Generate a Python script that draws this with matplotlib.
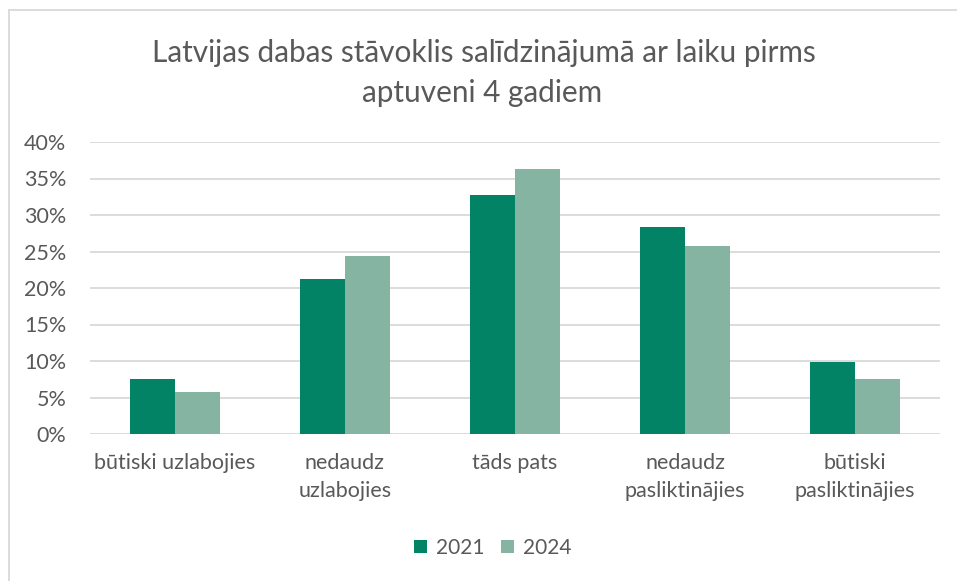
import numpy as np
import matplotlib
matplotlib.use("Agg")
import matplotlib.pyplot as plt
from matplotlib.ticker import PercentFormatter
from matplotlib.lines import Line2D

# Dati
categories = ["būtiski uzlabojies", "nedaudz\nuzlabojies", "tāds pats",
              "nedaudz\npasliktinājies", "būtiski\npasliktinājies"]
years = ["2021", "2024"]
values_2021 = [0.076, 0.213, 0.328, 0.283, 0.098]
values_2024 = [0.058, 0.244, 0.363, 0.257, 0.075]
yticks = [0, 0.05, 0.10, 0.15, 0.20, 0.25, 0.30, 0.35, 0.40]

col_2021 = "#038366"
col_2024 = "#86B4A3"
text_col = "#595959"
grid_col = "#D9D9D9"

plt.rcParams["font.family"] = ["Lato", "DejaVu Sans"]

fig = plt.figure(figsize=(9.57, 5.81), dpi=100)
ax = fig.add_axes([90 / 957, 1 - 434 / 581, 850 / 957, 292 / 581])

x = np.arange(len(categories))
w = 0.262
ax.bar(x - w / 2, values_2021, w, color=col_2021, label=years[0], zorder=3)
ax.bar(x + w / 2, values_2024, w, color=col_2024, label=years[1], zorder=3)

ax.set_xlim(-0.5, len(categories) - 0.5)
ax.set_ylim(0, 0.4)
ax.set_yticks(yticks)
ax.yaxis.set_major_formatter(PercentFormatter(1.0, decimals=0))
ax.set_xticks(x)
ax.set_xticklabels(categories, linespacing=1.45)
ax.tick_params(axis="both", length=0, labelsize=15.5, colors=text_col)
ax.tick_params(axis="x", pad=14)
ax.tick_params(axis="y", pad=17)
ax.grid(axis="y", color=grid_col, linewidth=1.3, zorder=0)
for s in ax.spines.values():
    s.set_visible(False)

fig.text(484 / 957, 1 - 53 / 581, "Latvijas dabas stāvoklis salīdzinājumā ar laiku pirms",
         ha="center", va="center", fontsize=21.4, color=text_col)
fig.text(482 / 957, 1 - 93 / 581, "aptuveni 4 gadiem",
         ha="center", va="center", fontsize=21.4, color=text_col)

fig.legend(loc="center", bbox_to_anchor=(493 / 957, 1 - 548 / 581), ncol=2, frameon=False,
           fontsize=15, labelcolor=text_col, handlelength=0.6, handleheight=0.6,
           handletextpad=0.45, columnspacing=0.8)

# rāmis
fig.add_artist(Line2D([9 / 957, 9 / 957], [0, 1 - 10 / 581], transform=fig.transFigure,
                      color=grid_col, linewidth=1.3))
fig.add_artist(Line2D([9 / 957, 1], [1 - 10 / 581, 1 - 10 / 581], transform=fig.transFigure,
                      color=grid_col, linewidth=1.3))

fig.savefig("out.png", dpi=100)
